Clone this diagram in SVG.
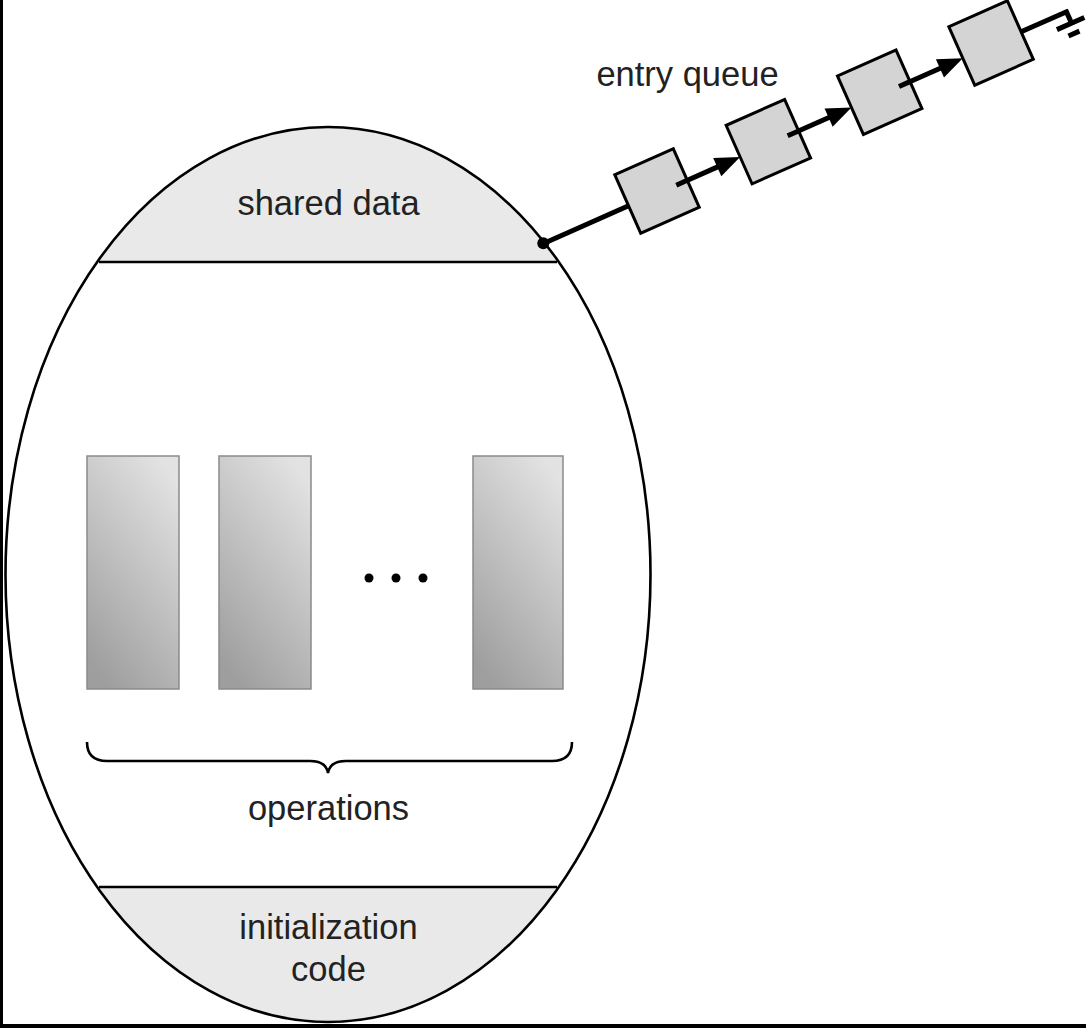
<svg xmlns="http://www.w3.org/2000/svg" width="1086" height="1028" viewBox="0 0 1086 1028">
  <style>
    .lbl { font-family: "Liberation Sans", Arial, sans-serif; font-size: 34.5px; fill: #222; text-anchor: middle; }
    .outline { fill: none; stroke: #000; stroke-width: 2.6; }
    .divider { stroke: #000; stroke-width: 2.6; }
    .op { fill: url(#opGrad); stroke: #8a8a8a; stroke-width: 1.5; }
    .qbox { fill: #d4d4d4; stroke: #000; stroke-width: 3; }
    .wire { stroke: #000; stroke-width: 5; fill: none; }
    .head { fill: #000; }
  </style>
  <defs>
    <clipPath id="eggClip">
      <ellipse cx="328" cy="574.5" rx="322.5" ry="447.5"/>
    </clipPath>
    <linearGradient id="opGrad" x1="0.75" y1="0" x2="0.25" y2="1">
      <stop offset="0" stop-color="#e2e2e2"/>
      <stop offset="1" stop-color="#9e9e9e"/>
    </linearGradient>
    <polygon id="arrowHead" points="0,0 -25,-10 -25,10"/>
  </defs>

  <rect x="0" y="0" width="1086" height="1028" fill="#fff"/>
  <!-- frame edges -->
  <rect x="0" y="0" width="3" height="1028" fill="#000"/>
  <rect x="0" y="1024" width="1086" height="4" fill="#000"/>

  <!-- monitor -->
  <g id="monitor">
    <g clip-path="url(#eggClip)">
      <rect x="0" y="100" width="700" height="162" fill="#e9e9e9"/>
      <rect x="0" y="887" width="700" height="140" fill="#e9e9e9"/>
    </g>
    <ellipse class="outline" cx="328" cy="574.5" rx="322.5" ry="447.5"/>
  </g>

  <g id="shared-data">
    <line class="divider" x1="99" y1="262" x2="557" y2="262"/>
    <text class="lbl" x="328.5" y="215">shared data</text>
  </g>

  <g id="operations">
    <rect class="op" x="87" y="456" width="92" height="233"/>
    <rect class="op" x="219" y="456" width="92" height="233"/>
    <rect class="op" x="473" y="456" width="90" height="233"/>
    <circle cx="369" cy="578" r="4.5" fill="#000"/>
    <circle cx="396" cy="578" r="4.5" fill="#000"/>
    <circle cx="423" cy="578" r="4.5" fill="#000"/>
    <path d="M87,742 Q87,761 107,761 L310,761 Q326,761 328,773 Q330,761 346,761 L552,761 Q572,761 572,742" fill="none" stroke="#000" stroke-width="2.6"/>
    <text class="lbl" x="328.5" y="820">operations</text>
  </g>

  <g id="initialization-code">
    <line class="divider" x1="99" y1="887" x2="557" y2="887"/>
    <text class="lbl" x="328.5" y="939">initialization</text>
    <text class="lbl" x="328.5" y="981">code</text>
  </g>

  <text id="entry-queue-label" class="lbl" x="687.5" y="86">entry queue</text>

  <!-- connectors -->
  <g id="connectors" transform="translate(657,191) rotate(-23.9)">
    <line class="wire" x1="-125" y1="2" x2="-32" y2="2"/>
    <line class="wire" x1="20" y1="2.5" x2="72" y2="2.5"/>
    <use href="#arrowHead" class="head" x="89.8" y="2.5"/>
    <line class="wire" x1="141.8" y1="2.5" x2="193.8" y2="2.5"/>
    <use href="#arrowHead" class="head" x="211.6" y="2.5"/>
    <line class="wire" x1="263.6" y1="2.5" x2="315.6" y2="2.5"/>
    <use href="#arrowHead" class="head" x="333.4" y="2.5"/>
    <line class="wire" x1="397.4" y1="2" x2="449" y2="2"/>
    <line class="wire" x1="447" y1="0" x2="447" y2="15"/>
    <line class="wire" x1="431" y1="14.5" x2="461" y2="14.5"/>
    <line class="wire" x1="439" y1="25" x2="451" y2="25"/>
  </g>
  <circle id="entry-point" cx="543.3" cy="243.3" r="6" fill="#000"/>

  <!-- queue nodes -->
  <g transform="translate(657,191) rotate(-23.9)">
    <g id="q1"><rect class="qbox" x="-32" y="-32" width="64" height="64"/></g>
    <g id="q2"><rect class="qbox" x="89.8" y="-32" width="64" height="64"/></g>
    <g id="q3"><rect class="qbox" x="211.6" y="-32" width="64" height="64"/></g>
    <g id="q4"><rect class="qbox" x="333.4" y="-32" width="64" height="64"/></g>
  </g>
  <!-- arrow starts drawn over boxes -->
  <g id="arrow-tails" transform="translate(657,191) rotate(-23.9)">
    <line class="wire" x1="20" y1="2.5" x2="32" y2="2.5"/>
    <line class="wire" x1="141.8" y1="2.5" x2="153.8" y2="2.5"/>
    <line class="wire" x1="263.6" y1="2.5" x2="275.6" y2="2.5"/>
  </g>
</svg>
